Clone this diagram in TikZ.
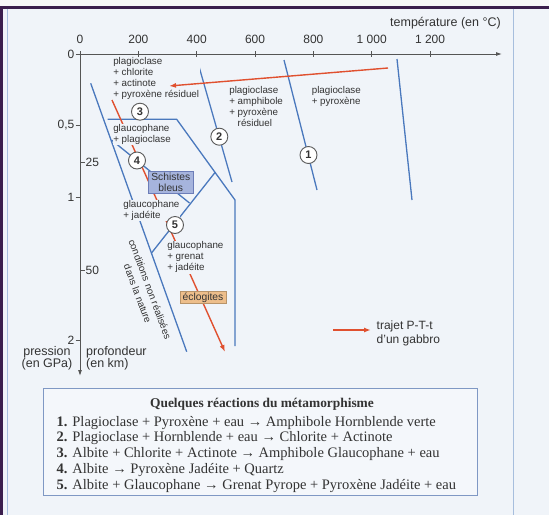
\documentclass[tikz,border=0pt]{standalone}
\usepackage{fontspec}
\setmainfont{Liberation Serif}
\setsansfont{Liberation Sans}
\usepackage{tikz}
\usetikzlibrary{arrows.meta}

\definecolor{blanc}{HTML}{F7F7F8}
\definecolor{fond}{HTML}{F0F4F9}
\definecolor{fondLeg}{HTML}{F4F7FB}
\definecolor{cadre}{HTML}{3B1E4D}
\definecolor{bordure}{HTML}{A7BEDD}
\definecolor{bordureLeg}{HTML}{7F98C4}
\definecolor{bleuLigne}{HTML}{4A78BD}
\definecolor{rougeTrajet}{HTML}{E0502F}
\definecolor{gris}{HTML}{333333}
\definecolor{grisAxe}{HTML}{555555}
\definecolor{grisRond}{HTML}{5A5A5A}
\definecolor{bleuBoite}{HTML}{A6B4DD}
\definecolor{bleuBord}{HTML}{6C7DB8}
\definecolor{ecloBoite}{HTML}{EDBE8B}
\definecolor{ecloBord}{HTML}{B8946A}

\begin{document}
\begin{tikzpicture}[x=1pt,y=-1pt,
    ligne/.style={draw=bleuLigne, line width=1.3pt},
    trajet/.style={draw=rougeTrajet, line width=1.4pt, -{Latex[length=7pt,width=5pt]}},
    axe/.style={draw=grisAxe, line width=0.9pt},
    etiq/.style={font=\sffamily\fontsize{9.8}{11}\selectfont, text=gris, align=left,
      inner sep=0.6pt, fill=fond, anchor=north west},
    num/.style={circle, draw=grisRond, fill=white, line width=0.9pt, minimum size=17pt,
      inner sep=0pt, font=\sffamily\bfseries\fontsize{11}{11}\selectfont, text=gris},
    graduation/.style={font=\sffamily\fontsize{12}{12}\selectfont, text=gris, inner sep=0pt},
    reaction/.style={font=\rmfamily\fontsize{14.5}{15.8}\selectfont, text=gris, inner sep=0pt, anchor=base west},
  ]
    % Fond et cadre
    \useasboundingbox (0,0) rectangle (549,515);
    \fill[blanc] (0,0) rectangle (549,515);
    \fill[fond] (0,8) rectangle (549,515);
    \fill[cadre] (0,5.5) rectangle (549,8.5);
    \fill[cadre] (0,5.5) rectangle (3,515);
    \draw[bordure, line width=1pt] (7,8.5) -- (7,515);
    \draw[bordure, line width=1pt] (513.5,8.5) -- (513.5,515);

    % Axes
    \coordinate (O) at (80,54);
    \coordinate (Tmax) at (502,54);
    \coordinate (Pmax) at (80,376);
    \draw[axe, -{Latex[length=6pt,width=4pt]}] (O) -- (Tmax);
    \draw[axe, -{Latex[length=6pt,width=4pt]}] (O) -- (Pmax);
    \node[graduation, font=\sffamily\fontsize{12.5}{12.5}\selectfont, anchor=east] (titreT) at (501,23) {température (en °C)};

    % Graduations
    \foreach \t/\lab in {0/0,200/200,400/400,600/600,800/800,1000/{1 000},1200/{1 200}} {
      \draw[axe] (80+\t*0.2917,51) -- (80+\t*0.2917,57);
      \node[graduation] (T\t) at (80+\t*0.2917,39) {\lab};
    }
    \foreach \p/\lab/\nom in {0/0/a,0.5/{0,5}/b,1/1/c,2/2/d} {
      \draw[axe] (75.5,54+\p*143) -- (80,54+\p*143);
      \node[graduation, anchor=east] (P\nom) at (74.5,54+\p*143) {\lab};
    }
    \foreach \d in {25,50} {
      \draw[axe] (80,54+\d*4.32) -- (84.5,54+\d*4.32);
      \node[graduation, anchor=west] (D\d) at (85.5,54+\d*4.32) {\d};
    }
    \node[graduation, font=\sffamily\fontsize{12.5}{11.7}\selectfont, align=center] (pression) at (47,358) {pression\\(en GPa)};
    \node[graduation, font=\sffamily\fontsize{12.5}{11.7}\selectfont, align=left, anchor=west] (profondeur) at (86,358) {profondeur\\(en km)};

    % Limites des domaines
    \coordinate (l1a) at (284,60);     \coordinate (l1b) at (317,190);
    \coordinate (l2a) at (198,63);     \coordinate (l2b) at (232,182);
    \coordinate (lfa) at (397,59);     \coordinate (lfb) at (412,200);
    \coordinate (diagA) at (90.7,83.3); \coordinate (diagB) at (186.7,351.7);
    \coordinate (h3a) at (107.5,119.3); \coordinate (h3b) at (176.7,119.3);
    \coordinate (coin) at (235,200);   \coordinate (basD) at (235,346);
    \coordinate (l4a) at (111.5,140);  \coordinate (l4b) at (189.5,203);
    \coordinate (l5a) at (151.5,253);  \coordinate (l5b) at (215,172.5);
    \draw[ligne] (lfa) -- (lfb);
    \draw[ligne] (l1a) -- (l1b);
    \draw[ligne] (l2a) -- (l2b);
    \draw[ligne] (diagA) -- (diagB);
    \draw[ligne, line join=round] (h3a) -- (h3b) -- (coin) -- (basD);
    \draw[ligne] (l4a) -- (l4b);
    \draw[ligne] (l5a) -- (l5b);

    % Trajet P-T-t (descente)
    \coordinate (rC) at (112,100); \coordinate (rD) at (225,352);
    \draw[trajet] (rC) -- (rD);

    % Domaines
    \node[etiq] (plagChl) at (112.5,57) {plagioclase\\+ chlorite\\+ actinote\\+ pyroxène résiduel};
    \node[etiq] (plagAmph) at (228.5,86) {plagioclase\\+ amphibole\\+ pyroxène\\\phantom{+ }résiduel};
    \node[etiq] (plagPyr) at (311,86) {plagioclase\\+ pyroxène};
    \node[etiq] (glauPlag) at (112.5,123.3) {glaucophane\\+ plagioclase};
    \node[etiq] (glauJad) at (122.5,199.5) {glaucophane\\+ jadéite};
    \node[etiq] (glauGren) at (166.5,241) {glaucophane\\+ grenat\\+ jadéite};
    \node[draw=bleuBord, fill=bleuBoite, line width=0.8pt, minimum width=45pt, minimum height=21.6pt,
      inner sep=1pt, align=center, text=gris, font=\sffamily\fontsize{10.3}{10.6}\selectfont] (schistes) at (170.8,182.5) {Schistes\\bleus};
    \node[draw=ecloBord, fill=ecloBoite, line width=0.8pt, minimum width=46pt, minimum height=11.6pt,
      inner sep=0.5pt, text=gris, font=\sffamily\fontsize{10.3}{10.3}\selectfont] (eclogites) at (203,297.5) {éclogites};
    \node[font=\sffamily\fontsize{9.8}{13}\selectfont, text=gris, align=center, rotate=-69.6,
      inner sep=0pt] (hors) at (144,291.5) {conditions non réalisées\\dans la nature};

    % Trajet P-T-t (refroidissement)
    \coordinate (rA) at (388,68);  \coordinate (rB) at (169,86);
    \draw[trajet] (rA) -- (rB);

    % Numéros des réactions
    \node[num] (c1) at (308.5,155) {1};
    \node[num] (c2) at (219.3,136.7) {2};
    \node[num] (c3) at (140,111.7) {3};
    \node[num] (c4) at (137,160.5) {4};
    \node[num] (c5) at (175,225) {5};

    % Légende du trajet
    \coordinate (legA) at (333,330); \coordinate (legB) at (371,330);
    \draw[trajet] (legA) -- (legB);
    \node[graduation, align=left, anchor=west, font=\sffamily\fontsize{12}{14}\selectfont] (legTrajet) at (376.5,333) {trajet P-T-t\\d'un gabbro};

    % Réactions
    \node[draw=bordureLeg, fill=fondLeg, line width=1pt, minimum width=434pt, minimum height=107pt,
      inner sep=0pt] (legende) at (260,441.5) {};
    \node[font=\rmfamily\bfseries\fontsize{13.4}{14}\selectfont, text=gris, anchor=base, inner sep=0pt] (titre) at (262,407.5) {Quelques réactions du métamorphisme};
    \foreach \txt [count=\i] in {
      {\textbf{1.} Plagioclase + Pyroxène + eau → Amphibole Hornblende verte},
      {\textbf{2.} Plagioclase + Hornblende + eau → Chlorite + Actinote},
      {\textbf{3.} Albite + Chlorite + Actinote → Amphibole Glaucophane + eau},
      {\textbf{4.} Albite → Pyroxène Jadéite + Quartz},
      {\textbf{5.} Albite + Glaucophane → Grenat Pyrope + Pyroxène Jadéite + eau}}
      \node[reaction] (r\i) at (56.5,410.2+15.8*\i) {\txt};
\end{tikzpicture}
\end{document}
